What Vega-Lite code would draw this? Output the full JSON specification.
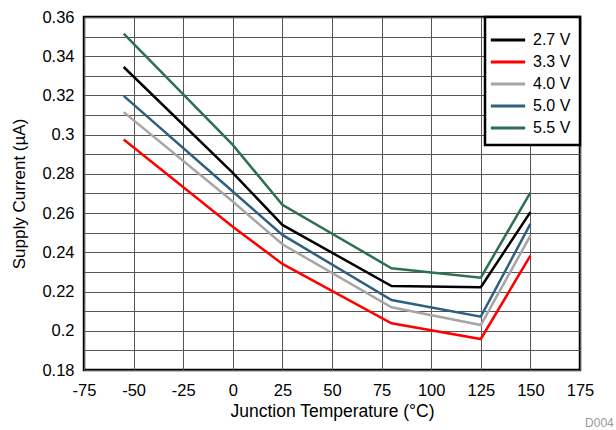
{
  "$schema": "https://vega.github.io/schema/vega-lite/v6.json",
  "width": 496,
  "height": 353,
  "autosize": "none",
  "padding": {"left": 84, "top": 17, "right": 36, "bottom": 60},
  "background": "white",
  "config": {
    "font": "Liberation Sans",
    "view": {"stroke": "black", "strokeWidth": 2.5},
    "legend": {"strokeWidth": 2.5},
    "axis": {"labelFont": "Liberation Sans", "titleFont": "Liberation Sans", "labelColor": "black", "titleColor": "black", "titleFontWeight": "normal", "ticks": false, "domain": false, "gridColor": "#555", "gridWidth": 1, "gridOpacity": 1}
  },
  "title": {"text": "D004", "orient": "bottom", "anchor": "end", "fontSize": 12, "color": "#9a9a9a", "fontWeight": "normal", "offset": -2, "dx": 20},
  "data": {"values": [
    {"series": "2.7 V", "T": -55, "I": 0.3345},
    {"series": "2.7 V", "T": 0, "I": 0.2805},
    {"series": "2.7 V", "T": 25, "I": 0.254},
    {"series": "2.7 V", "T": 80, "I": 0.2228},
    {"series": "2.7 V", "T": 125, "I": 0.2222},
    {"series": "2.7 V", "T": 150, "I": 0.2605},
    {"series": "3.3 V", "T": -55, "I": 0.2975},
    {"series": "3.3 V", "T": 0, "I": 0.2531},
    {"series": "3.3 V", "T": 25, "I": 0.2341},
    {"series": "3.3 V", "T": 80, "I": 0.2038},
    {"series": "3.3 V", "T": 125, "I": 0.1958},
    {"series": "3.3 V", "T": 150, "I": 0.2383},
    {"series": "4.0 V", "T": -55, "I": 0.3115},
    {"series": "4.0 V", "T": 0, "I": 0.2659},
    {"series": "4.0 V", "T": 25, "I": 0.2441},
    {"series": "4.0 V", "T": 80, "I": 0.212},
    {"series": "4.0 V", "T": 125, "I": 0.2029},
    {"series": "4.0 V", "T": 150, "I": 0.2485},
    {"series": "5.0 V", "T": -55, "I": 0.3198},
    {"series": "5.0 V", "T": 0, "I": 0.271},
    {"series": "5.0 V", "T": 25, "I": 0.2489},
    {"series": "5.0 V", "T": 80, "I": 0.2157},
    {"series": "5.0 V", "T": 125, "I": 0.2072},
    {"series": "5.0 V", "T": 150, "I": 0.2545},
    {"series": "5.5 V", "T": -55, "I": 0.3515},
    {"series": "5.5 V", "T": 0, "I": 0.2948},
    {"series": "5.5 V", "T": 25, "I": 0.2642},
    {"series": "5.5 V", "T": 80, "I": 0.2319},
    {"series": "5.5 V", "T": 125, "I": 0.2271},
    {"series": "5.5 V", "T": 150, "I": 0.2705}
  ]},
  "mark": {"type": "line", "strokeWidth": 2.5, "clip": true},
  "encoding": {
    "x": {"field": "T", "type": "quantitative",
      "scale": {"domain": [-75, 175], "nice": false, "zero": false},
      "axis": {"values": [-75, -50, -25, 0, 25, 50, 75, 100, 125, 150, 175], "labelExpr": "replace(datum.label, '−', '-')", "title": "Junction Temperature  (°C)", "labelFontSize": 16.5, "titleFontSize": 17.5, "labelPadding": 12, "titlePadding": 4, "labelFlush": false}},
    "y": {"field": "I", "type": "quantitative",
      "scale": {"domain": [0.18, 0.36], "nice": false, "zero": false},
      "axis": {"values": [0.18, 0.19, 0.2, 0.21, 0.22, 0.23, 0.24, 0.25, 0.26, 0.27, 0.28, 0.29, 0.3, 0.31, 0.32, 0.33, 0.34, 0.35, 0.36], "format": ".2~f", "labelExpr": "round(datum.value*100) % 2 == 0 ? datum.label : ''", "title": "Supply Current (µA)", "labelFontSize": 16.5, "titleFontSize": 17, "labelPadding": 10, "titlePadding": 13, "labelFlush": false}},
    "color": {"field": "series", "type": "nominal",
      "scale": {"domain": ["2.7 V", "3.3 V", "4.0 V", "5.0 V", "5.5 V"], "range": ["#000000", "#FF0000", "#A6A6A6", "#2F6080", "#2E7050"]},
      "legend": {"title": null, "orient": "top-right", "offset": 0, "fillColor": "white", "strokeColor": "black", "padding": 9, "symbolType": "M-1.4,0H1.4", "symbolSize": 600, "symbolStrokeWidth": 3, "labelFontSize": 16, "labelColor": "black", "rowPadding": -1, "labelOffset": 11}}
  }
}
